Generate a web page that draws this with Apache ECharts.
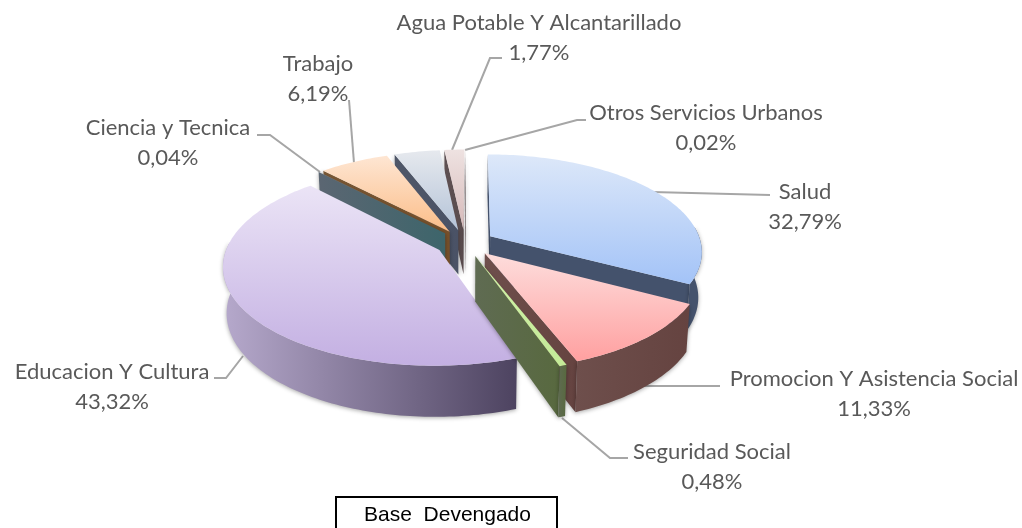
<!DOCTYPE html>
<html><head><meta charset="utf-8">
<style>html,body{margin:0;padding:0;background:#fff}#c{width:1022px;height:528px}</style>
<script src="https://cdn.jsdelivr.net/npm/echarts@6/dist/echarts.min.js"></script>
</head><body><div id="c"></div>
<script>
// ---- data, clockwise from the top of the pie ----
const categories = ['Salud','Promocion Y Asistencia Social','Seguridad Social','Educacion Y Cultura','Ciencia y Tecnica','Trabajo','Otros sectores','Agua Potable Y Alcantarillado','Otros Servicios Urbanos'];
const values     = [32.79, 11.33, 0.48, 43.32, 0.04, 6.19, 4.06, 1.77, 0.02];
const valueLabels= ['32,79%','11,33%','0,48%','43,32%','0,04%','6,19%','','1,77%','0,02%'];

// ---- styles ----
const topColors  = [['#dde8f9','#a3c3f7'],['#fdddDC','#ffa0a0'],['#d0f2a8','#c4ea98'],['#ebe4f6','#c3afe2'],['#9ba7b3','#8f9faf'],['#fee6d3','#fbbd88'],['#e6e9ee','#b4c3d8'],['#eee2e1','#d6b9b9'],['#e0d8d8','#d0c8c8']];
const wallColors = [['#44526c','#44526c'],['#6e4f4c','#654340'],['#5f6b52','#58693f'],['#b6a9cc','#4d4360'],['#5b6672','#3d656b'],['#7d5a36','#77502a'],['#4f5768','#4a5266'],['#5e5052','#5a4c4e'],['#5e5052','#5a4c4e']];
const drawRank   = [4,6,7,5,3,2,1,0,0];

// ---- pie geometry ----
const pie = {cx:465, cy:243, rx:211, ry:96, k:0.15, explode:0.14, depth:45, depthGrow:0.05, baseScale:0.985, rotation:0.005};

// ---- label layout ----
const labelLayout = [
 {x:805,y:192,line:[[652,192],[770,195]]},
 {x:874,y:379,line:[[642,386],[720,386]]},
 {x:712,y:452,line:[[562,418],[610,458],[628,458]]},
 {x:112,y:372,line:[[243,356],[226,378],[214,378]]},
 {x:168,y:128,line:[[320,172],[270,135],[257,135]]},
 {x:318,y:64,line:[[354,163],[349,100]]},
 null,
 {x:539,y:23,line:[[452,150],[490,58],[502,58]]},
 {x:706,y:113,line:[[465,150],[577,120],[586,120]]}
];

const total = values.reduce((a,b)=>a+b,0);
function project(X,Y){const d=1-pie.k*Y;return [pie.cx+pie.rx*X/d, pie.cy+pie.ry*Y/d];}
// lower rim: further from the camera, so slightly pulled in towards the pie's axis
function down(p){return [pie.cx+(p[0]-pie.cx)*pie.baseScale, p[1]+pie.depth+(p[1]-pie.cy)*pie.depthGrow];}
const vGrad=c=>({type:'linear',x:0,y:0,x2:0,y2:1,colorStops:[{offset:0,color:c[0]},{offset:1,color:c[1]}]});
const hGrad=c=>({type:'linear',x:0,y:0,x2:1,y2:0,colorStops:[{offset:0,color:c[0]},{offset:1,color:c[1]}]});

function renderItem(params,api){
  const i=params.dataIndex;
  let before=0; for(let j=0;j<i;j++) before+=values[j];
  const v=api.value(0);
  const a0=before/total*2*Math.PI+pie.rotation, a1=(before+v)/total*2*Math.PI+pie.rotation, mid=(a0+a1)/2;
  const ox=Math.sin(mid)*pie.explode, oy=-Math.cos(mid)*pie.explode;
  const pt=a=>project(ox+Math.sin(a),oy-Math.cos(a));
  const apex=project(ox,oy);
  const steps=Math.max(2,Math.ceil((a1-a0)/0.02));
  const rim=[]; for(let s=0;s<=steps;s++) rim.push(a0+(a1-a0)*s/steps);
  const base=drawRank[i]*10+10;
  const children=[];
  const shadow={shadowBlur:4,shadowColor:'rgba(0,0,0,0.35)',shadowOffsetY:1};
  const wall=(pts,fill,z)=>children.push({type:'polygon',z2:z,shape:{points:pts},style:Object.assign({fill},shadow)});
  // radial walls, only those facing the viewer
  const pa=pt(a0), pb=pt(a1);
  if(Math.sin(a0)<0.02) wall([apex,pa,down(pa),down(apex)],hGrad(wallColors[i]),base);
  if(Math.sin(a1)>-0.02) wall([apex,pb,down(pb),down(apex)],hGrad(wallColors[i]),base+1);
  // outer wall
  const front=rim.filter(a=>Math.cos(a)<0.1);
  if(front.length>1){
    const up=front.map(pt);
    wall(up.concat(up.slice().reverse().map(down)),hGrad(wallColors[i]),base+2);
  }
  // top face
  children.push({type:'polygon',z2:base+3,shape:{points:[apex].concat(rim.map(pt))},style:{fill:vGrad(topColors[i])}});
  // label and leader
  const L=labelLayout[i];
  if(L){
    children.push({type:'polyline',z2:1,shape:{points:L.line},style:{fill:null,stroke:'#a6a6a6',lineWidth:2}});
    children.push({type:'text',z2:200,style:{x:L.x,y:L.y+14.75,text:api.value(1)+'\n'+valueLabels[i],align:'center',verticalAlign:'middle',fill:'#595959',font:'22px Lato',lineHeight:29.5}});
  }
  return {type:'group',children};
}

const chart=echarts.init(document.getElementById('c'),null,{renderer:'canvas'});
chart.setOption({
  animation:false,
  backgroundColor:'#ffffff',
  series:[{type:'custom',coordinateSystem:'none',renderItem,silent:true,
    data:values.map((v,i)=>[v,categories[i]])}],
  graphic:[
    {type:'rect',shape:{x:336,y:497,width:221,height:40},style:{fill:'#fff',stroke:'#000',lineWidth:2}},
    {type:'text',style:{x:447.5,y:515,text:'Base  Devengado',align:'center',verticalAlign:'middle',fill:'#000',font:'21px "Liberation Sans"'}}
  ]
});
</script></body></html>
